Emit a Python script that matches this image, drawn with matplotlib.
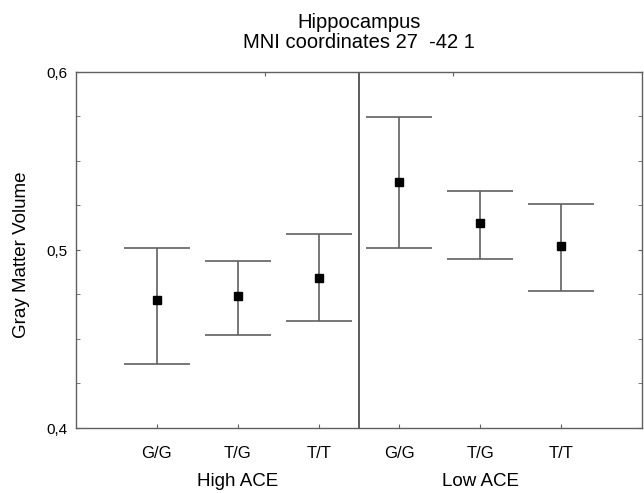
import matplotlib.pyplot as plt
import numpy as np
from matplotlib.ticker import FixedLocator, FuncFormatter

plt.rcParams['font.family'] = ['Liberation Sans', 'DejaVu Sans']

genotypes = ['G/G', 'T/G', 'T/T', 'G/G', 'T/G', 'T/T']
groups = ['High ACE', 'Low ACE']
means = [0.472, 0.474, 0.484, 0.538, 0.515, 0.502]
upper = [0.501, 0.494, 0.509, 0.575, 0.533, 0.526]
lower = [0.436, 0.452, 0.460, 0.501, 0.495, 0.477]

x = np.array([1, 2, 3, 4, 5, 6])
means = np.array(means)
err = [means - np.array(lower), np.array(upper) - means]

W, H = 644, 493
fig = plt.figure(figsize=(W / 100, H / 100), dpi=100)
ax = fig.add_axes([76/W, 1 - 428/H, (642 - 76)/W, (428 - 72)/H])

ax.errorbar(x, means, yerr=err, fmt='s', color='black', ms=5.5,
            ecolor='#606060', elinewidth=1.2, capsize=23.8, capthick=1.2)
ax.axvline(3.5, color='#404040', lw=1.2)

ax.set_xlim(0, 7)
ax.set_ylim(0.4, 0.6)
ax.set_xticks(x)
ax.set_xticklabels([])
ax.set_yticks([0.4, 0.5, 0.6])
ax.yaxis.set_major_formatter(FuncFormatter(lambda v, p: ('%.1f' % v).replace('.', ',')))
ax.yaxis.set_minor_locator(FixedLocator(np.arange(0.4, 0.6, 0.025)))
ax.tick_params(axis='y', labelsize=11, direction='in', length=3, color='#606060',
               right=True, which='both', pad=6)
ax.tick_params(axis='x', direction='in', length=3, color='#606060')

top = ax.secondary_xaxis('top')
top.set_xticks([7/3, 14/3])
top.set_xticklabels([])
top.tick_params(direction='in', length=3, color='#606060')
top.spines['top'].set_visible(False)

for s in ax.spines.values():
    s.set_color('#606060')
    s.set_linewidth(1.0)

# genotype labels and group labels under the axis
for xi, g in zip(x, genotypes):
    ax.text(xi, 1 - (453 - 72) / (428 - 72), g, transform=ax.get_xaxis_transform(),
            ha='center', va='center', fontsize=12)
for i, g in enumerate(groups):
    ax.text(2 + 3 * i, 1 - (481 - 72) / (428 - 72), g, transform=ax.get_xaxis_transform(),
            ha='center', va='center', fontsize=13.5)

fig.text(22/W, 1 - 255/H, 'Gray Matter Volume', rotation=90, ha='center', va='center', fontsize=13.5)
fig.text(359/W, 1 - 28.5/H, 'Hippocampus', ha='center', va='baseline', fontsize=14.5)
fig.text(359/W, 1 - 48.5/H, 'MNI coordinates 27  -42 1', ha='center', va='baseline', fontsize=14.5)

fig.savefig('out.png', dpi=100)
